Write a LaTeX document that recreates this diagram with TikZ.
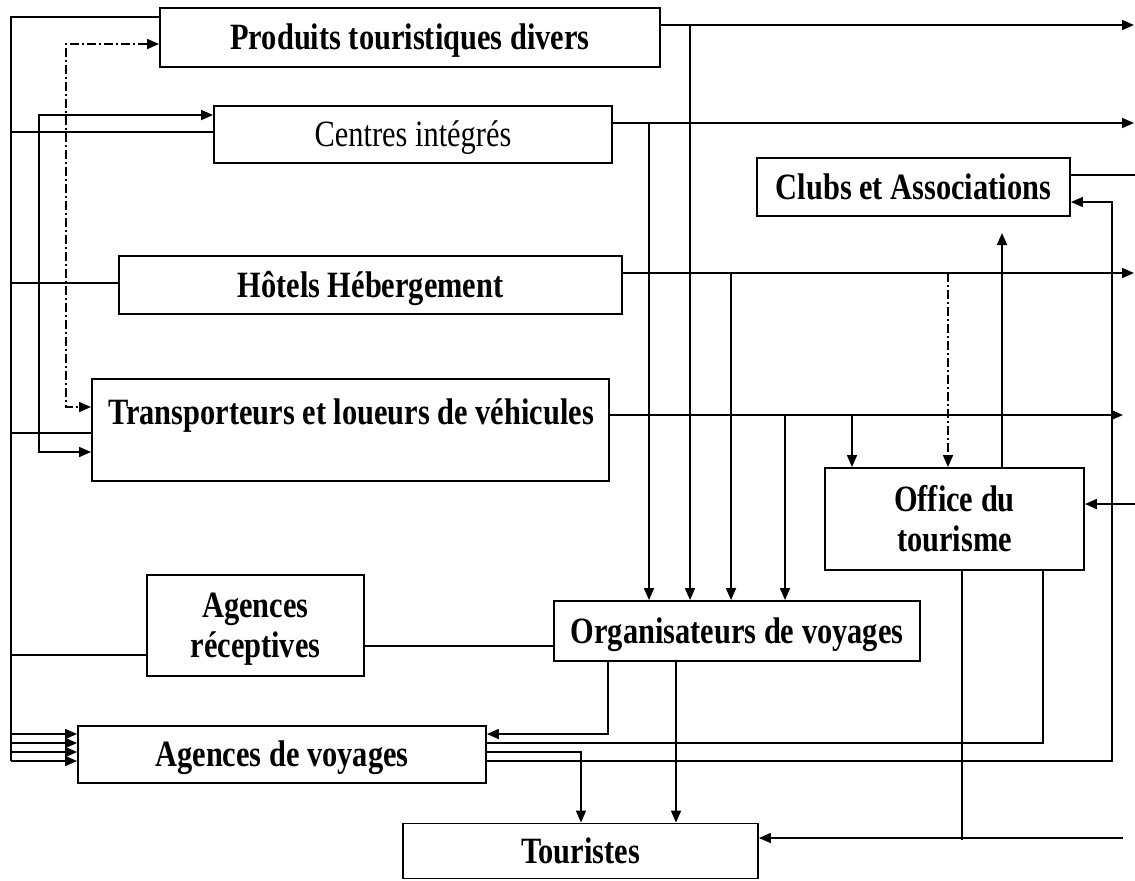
\documentclass[tikz,border=0pt]{standalone}
\usepackage{graphicx}
\usepackage{fontspec}
\setmainfont{Liberation Serif}
\usetikzlibrary{arrows.meta}
% tall, narrow lettering as in the printed chart, set a little low in its box
\newcommand\tx[1]{\raisebox{-2.2pt}[\height][\depth]{\scalebox{1}[1.22]{\begin{tabular}{@{}c@{}}#1\end{tabular}}}}
\begin{document}
\begin{tikzpicture}[x=0.5pt,y=-0.5pt,
  box/.style={draw,line width=0.95pt,inner sep=0pt,font=\fontsize{15.2}{16.4}\selectfont\bfseries},
  plainbox/.style={box,font=\fontsize{15.2}{16.4}\selectfont},
  link/.style={line width=0.85pt},
  arr/.style={link,-{Triangle[length=6pt,width=5pt]}},
  barr/.style={link,{Triangle[length=6pt,width=5pt]}-{Triangle[length=6pt,width=5pt]}},
  dd/.style={dash pattern=on 4.5pt off 1.5pt on 1pt off 1.5pt}]
\useasboundingbox (0,0) rectangle (1135,880);

% ---- boxes ----
\node[box,minimum width=250pt,minimum height=29.5pt] (prod) at (410,37.5) {\tx{Produits touristiques divers}};
\node[plainbox,minimum width=199pt,minimum height=28.5pt] (cent) at (413,134.5) {\tx{Centres intégrés}};
\node[box,minimum width=156.5pt,minimum height=29pt] (club) at (913.5,187) {\tx{Clubs et Associations}};
\node[box,minimum width=251.5pt,minimum height=29pt] (hot) at (370.5,285) {\tx{Hôtels Hébergement}};
\node[box,minimum width=258.5pt,minimum height=51pt] (trans) at (350.5,430) {};
\node[font=\fontsize{15.2}{16.4}\selectfont\bfseries,inner sep=0pt] (transT) at (351,412) {\tx{Transporteurs et loueurs de véhicules}};
\node[box,minimum width=129.5pt,minimum height=51pt] (off) at (954.5,519) {\tx{Office du\\tourisme}};
\node[box,minimum width=108.5pt,minimum height=50.5pt] (rec) at (255.5,625.5) {\tx{Agences\\réceptives}};
\node[box,minimum width=183pt,minimum height=30pt] (org) at (737,631) {\tx{Organisateurs de voyages}};
\node[box,minimum width=204pt,minimum height=28.5pt] (agv) at (282,754.5) {\tx{Agences de voyages}};
\node[box,minimum width=177.5pt,minimum height=27.5pt] (tour) at (580.5,851) {\tx{Touristes}};

% ---- left-hand bus ----
\coordinate (busT) at (11,17);
\coordinate (busB) at (11,761);
\draw[link] (prod.west |- busT) -- (busT) -- (busB);
\draw[link] (11,132) -- (cent.west |- 0,132);
\draw[link] (11,283) -- (hot.west |- 0,283);
\draw[link] (11,433) -- (trans.west |- 0,433);
\draw[link] (11,655) -- (rec.west |- 0,655);
\foreach \y in {734,743,752,761}
  \draw[arr] (11,\y) -- (agv.west |- 0,\y);

% Centres <-> Transporteurs
\draw[barr] (cent.west |- 0,115) -- (39,115) -- (39,452) -- (trans.west |- 0,452);
% Produits <-> Transporteurs (dash-dot)
\draw[barr,dd] (prod.west |- 0,44) -- (66,44) -- (66,407) -- (trans.west |- 0,407);

% ---- outputs to the right ----
\coordinate (rP) at (1134,25);
\coordinate (rC) at (1134,123);
\coordinate (rH) at (1134,273);
\coordinate (rT) at (1123,415);
\coordinate (rK) at (1135,175);
\draw[arr] (prod.east |- rP) -- (rP);
\draw[arr] (cent.east |- rC) -- (rC);
\draw[arr] (hot.east |- rH) -- (rH);
\draw[arr] (trans.east |- rT) -- (rT);
\draw[link] (club.east |- rK) -- (rK);

% ---- feeds into Organisateurs de voyages ----
\draw[arr] (690,25) -- (org.north -| 690,0);
\draw[arr] (649,123) -- (org.north -| 649,0);
\draw[arr] (731,273) -- (org.north -| 731,0);
\draw[arr] (785,415) -- (org.north -| 785,0);

% ---- feeds into Office du tourisme ----
\draw[arr,dd] (948,273) -- (off.north -| 948,0);
\draw[arr] (852,415) -- (off.north -| 852,0);
\coordinate (rO) at (1135,504);
\draw[arr] (rO) -- (off.east |- rO);

% Office -> Clubs
\draw[arr] (off.north -| 1002,0) -- (1002,233);
% Agences de voyages -> Clubs
\draw[arr] (agv.east |- 0,761) -- (1112,761) -- (1112,202) -- (club.east |- 0,202);

% Agences réceptives -- Organisateurs
\draw[link] (rec.east |- 0,646) -- (org.west |- 0,646);

% Organisateurs -> Agences de voyages / Touristes
\draw[arr] (org.south -| 608,0) -- (608,734) -- (agv.east |- 0,734);
\draw[arr] (org.south -| 676,0) -- (tour.north -| 676,0);

% Office -- Agences de voyages
\draw[link] (off.south -| 1043,0) -- (1043,743) -- (agv.east |- 0,743);
% Agences de voyages -> Touristes
\draw[arr] (agv.east |- 0,752) -- (581,752) -- (tour.north -| 581,0);
% Office -> Touristes, and input from the right
\draw[link] (off.south -| 962,0) -- (962,840);
\coordinate (rU) at (1123,838);
\draw[arr] (rU) -- (tour.east |- rU);
\end{tikzpicture}
\end{document}
